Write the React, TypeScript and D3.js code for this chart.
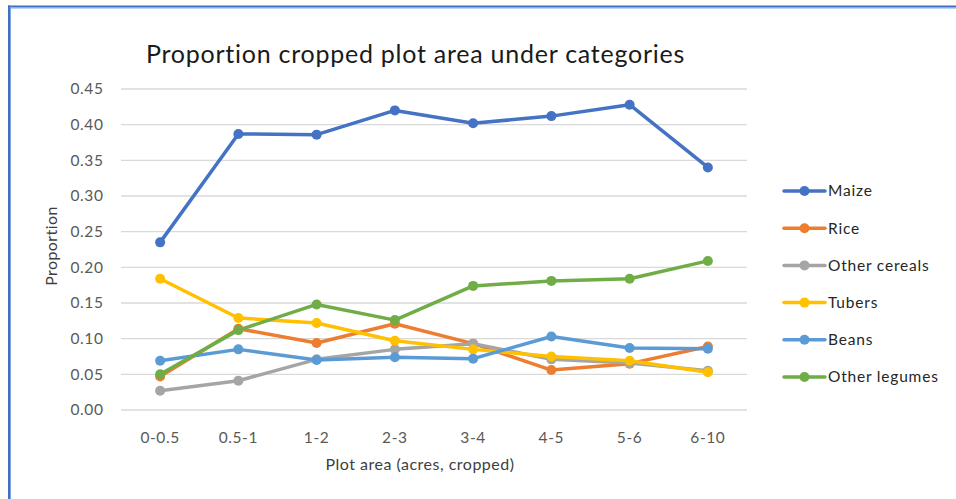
import React from "react";
import * as d3 from "d3";

const categories = ["0-0.5", "0.5-1", "1-2", "2-3", "3-4", "4-5", "5-6", "6-10"];
const yTicks = [0, 0.05, 0.1, 0.15, 0.2, 0.25, 0.3, 0.35, 0.4, 0.45];

const maize = [0.235, 0.387, 0.386, 0.42, 0.402, 0.412, 0.428, 0.34];
const rice = [0.047, 0.114, 0.094, 0.121, 0.093, 0.056, 0.065, 0.089];
const otherCereals = [0.027, 0.041, 0.071, 0.085, 0.093, 0.071, 0.066, 0.055];
const tubers = [0.184, 0.129, 0.122, 0.097, 0.085, 0.075, 0.069, 0.053];
const beans = [0.069, 0.085, 0.07, 0.074, 0.072, 0.103, 0.087, 0.086];
const otherLegumes = [0.05, 0.112, 0.148, 0.126, 0.174, 0.181, 0.184, 0.209];

const seriesNames = ["Maize", "Rice", "Other cereals", "Tubers", "Beans", "Other legumes"];
const seriesValues = [maize, rice, otherCereals, tubers, beans, otherLegumes];
const seriesColors = ["#4472C4", "#ED7D31", "#A5A5A5", "#FFC000", "#5B9BD5", "#70AD47"];

const FONT = "Lato, 'Open Sans', sans-serif";

export default function App() {
  const W = 956;
  const H = 499;
  const x = d3.scaleBand<string>().domain(categories).range([121, 747]).padding(0);
  const y = d3.scaleLinear().domain([0, 0.45]).range([410, 89]);
  const cx = (i: number) => (x(categories[i]) as number) + x.bandwidth() / 2;
  const line = d3
    .line<number>()
    .x((_, i) => cx(i))
    .y((d) => y(d));

  return (
    <svg
      width={W}
      height={H}
      style={{ position: "absolute", left: 0, top: 0, display: "block" }}
    >
      <rect x={0} y={0} width={W} height={H} fill="#fffdf7" />
      <rect x={9} y={7} width={W} height={H} fill="#ffffff" />
      <line x1={8} x2={W} y1={6.5} y2={6.5} stroke="#3f6fc7" strokeWidth={2} />
      <line x1={8} x2={W} y1={8} y2={8} stroke="#7fa5e4" strokeWidth={1} />
      <line x1={9} x2={9} y1={5.5} y2={H} stroke="#3f6fc7" strokeWidth={2} />
      <line x1={10.5} x2={10.5} y1={8} y2={H} stroke="#7fa5e4" strokeWidth={1} />

      <text
        x={415.5}
        y={63}
        textAnchor="middle"
        fontFamily={FONT}
        fontSize={25}
        letterSpacing={0.75}
        fill="#1a1a1a"
      >
        Proportion cropped plot area under categories
      </text>

      {yTicks.map((t) => (
        <g key={t}>
          <line
            x1={121}
            x2={747}
            y1={y(t)}
            y2={y(t)}
            stroke="#d9d9d9"
            strokeWidth={1.3}
          />
          <text
            x={103.5}
            y={y(t)}
            dy="0.35em"
            textAnchor="end"
            fontFamily={FONT}
            fontSize={15.5}
            letterSpacing={0.6}
            fill="#595959"
          >
            {t.toFixed(2)}
          </text>
        </g>
      ))}

      {categories.map((c, i) => (
        <text
          key={c}
          x={cx(i)}
          y={438}
          dy="0.35em"
          textAnchor="middle"
          fontFamily={FONT}
          fontSize={15.5}
          letterSpacing={0.6}
          fill="#595959"
        >
          {c}
        </text>
      ))}

      <text
        x={420}
        y={464}
        dy="0.35em"
        textAnchor="middle"
        fontFamily={FONT}
        fontSize={16}
        letterSpacing={0.5}
        fill="#404040"
      >
        Plot area (acres, cropped)
      </text>
      <text
        transform={`translate(51,246) rotate(-90)`}
        dy="0.35em"
        textAnchor="middle"
        fontFamily={FONT}
        fontSize={16}
        letterSpacing={0.4}
        fill="#404040"
      >
        Proportion
      </text>

      {seriesValues.map((vals, si) => (
        <g key={seriesNames[si]}>
          <path
            d={line(vals) as string}
            fill="none"
            stroke={seriesColors[si]}
            strokeWidth={3.5}
            strokeLinejoin="round"
            strokeLinecap="round"
          />
          {vals.map((v, i) => (
            <circle key={i} cx={cx(i)} cy={y(v)} r={5} fill={seriesColors[si]} />
          ))}
        </g>
      ))}

      {seriesNames.map((n, si) => {
        const ly = 191 + si * 37.2;
        return (
          <g key={n}>
            <line
              x1={784}
              x2={825}
              y1={ly}
              y2={ly}
              stroke={seriesColors[si]}
              strokeWidth={3.5}
              strokeLinecap="round"
            />
            <circle cx={804.5} cy={ly} r={5} fill={seriesColors[si]} />
            <text
              x={828}
              y={ly}
              dy="0.35em"
              fontFamily={FONT}
              fontSize={15.5}
              letterSpacing={0.8}
              fill="#262626"
            >
              {n}
            </text>
          </g>
        );
      })}
    </svg>
  );
}
